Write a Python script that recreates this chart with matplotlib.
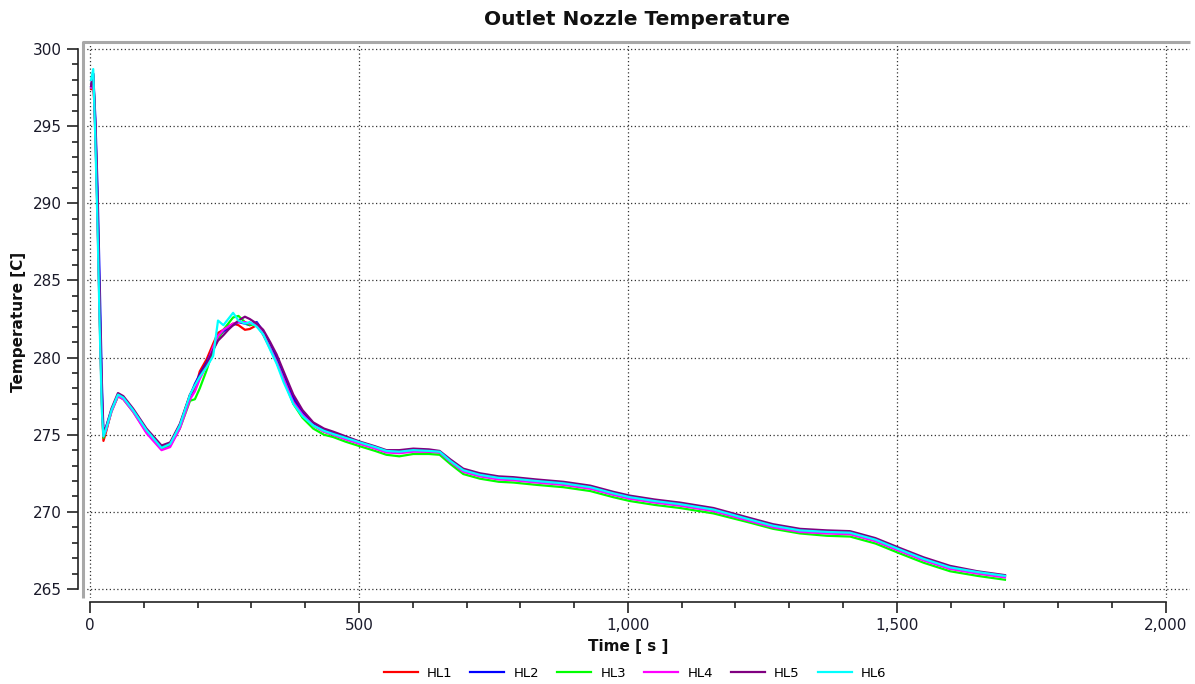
import matplotlib
matplotlib.use("Agg")
import matplotlib.pyplot as plt
from matplotlib.ticker import MultipleLocator, FuncFormatter

# time [s], shared by all six hot-leg nozzle series
time_s = [2, 6, 10, 14, 18, 22, 25, 30, 40, 52, 62, 80, 105, 133, 149, 167, 186, 195,
          204, 217, 229, 238, 248, 257, 266, 276, 288, 297, 310, 322, 335, 347, 360, 378,
          395, 415, 435, 452, 475, 502, 530, 551, 575, 601, 630, 650, 670, 694, 725, 760,
          787, 830, 880, 930, 973, 1004, 1050, 1097, 1159, 1227, 1270, 1320, 1370, 1413,
          1460, 1506, 1550, 1599, 1650, 1701]

hl1 = [297.4, 298.2, 294.5, 289.0, 282.5, 277.0, 274.6, 275.2, 276.6, 277.5, 277.4, 276.6,
       275.3, 274.2, 274.4, 275.6, 277.6, 277.9, 279.1, 279.9, 280.9, 281.6, 281.8, 282.0,
       282.2, 282.1, 281.8, 281.85, 282.1, 281.5, 280.6, 279.8, 278.7, 277.2, 276.3, 275.6,
       275.2, 275.0, 274.75, 274.45, 274.15, 273.9, 273.85, 273.95, 273.9, 273.85, 273.25,
       272.65, 272.35, 272.15, 272.1, 271.95, 271.8, 271.55, 271.15, 270.9, 270.65, 270.45,
       270.1, 269.45, 269.05, 268.75, 268.65, 268.6, 268.15, 267.5, 266.9, 266.35, 266.05,
       265.8]
hl2 = [297.6, 298.4, 295.5, 291.0, 285.0, 278.5, 275.2, 275.5, 276.6, 277.6, 277.4, 276.6,
       275.3, 274.2, 274.4, 275.6, 277.5, 278.3, 278.9, 279.7, 280.6, 281.3, 281.7, 281.9,
       282.1, 282.3, 282.2, 282.1, 282.3, 281.7, 280.9, 280.0, 278.9, 277.4, 276.5, 275.7,
       275.3, 275.1, 274.8, 274.5, 274.2, 273.9, 273.9, 274.0, 273.95, 273.9, 273.3, 272.7,
       272.4, 272.2, 272.15, 272.0, 271.85, 271.6, 271.2, 270.95, 270.7, 270.5, 270.15,
       269.5, 269.1, 268.8, 268.7, 268.65, 268.2, 267.55, 266.95, 266.4, 266.1, 265.85]
hl3 = [297.5, 298.3, 294.8, 289.5, 283.0, 277.2, 274.8, 275.3, 276.5, 277.5, 277.3, 276.5,
       275.2, 274.1, 274.3, 275.4, 277.2, 277.3, 278.0, 279.2, 280.5, 281.2, 281.8, 282.2,
       282.6, 282.7, 282.3, 282.1, 282.2, 281.5, 280.6, 279.7, 278.6, 277.0, 276.1, 275.4,
       275.0, 274.85, 274.55, 274.25, 273.95, 273.7, 273.6, 273.75, 273.75, 273.7, 273.1,
       272.45, 272.15, 271.95, 271.9, 271.75, 271.6, 271.35, 270.95, 270.7, 270.45, 270.25,
       269.9, 269.3, 268.9, 268.6, 268.45, 268.4, 267.95, 267.3, 266.7, 266.15, 265.85,
       265.6]
hl4 = [297.5, 298.3, 294.6, 289.2, 282.8, 277.3, 274.9, 275.3, 276.5, 277.5, 277.3, 276.5,
       275.1, 274.0, 274.2, 275.4, 277.3, 277.8, 278.6, 279.5, 280.7, 281.4, 281.8, 282.0,
       282.2, 282.3, 282.3, 282.2, 282.2, 281.5, 280.6, 279.7, 278.6, 277.1, 276.3, 275.6,
       275.2, 275.0, 274.7, 274.4, 274.1, 273.85, 273.8, 273.9, 273.9, 273.85, 273.25,
       272.6, 272.3, 272.1, 272.05, 271.9, 271.75, 271.5, 271.1, 270.85, 270.6, 270.4,
       270.05, 269.4, 269.0, 268.7, 268.6, 268.55, 268.1, 267.45, 266.85, 266.3, 266.0,
       265.75]
hl5 = [297.6, 298.4, 295.0, 290.0, 283.5, 277.8, 275.0, 275.5, 276.7, 277.7, 277.5, 276.7,
       275.4, 274.3, 274.5, 275.7, 277.6, 278.2, 278.8, 279.6, 280.5, 281.1, 281.45, 281.8,
       282.1, 282.4, 282.65, 282.5, 282.2, 281.8, 281.0, 280.2, 279.1, 277.6, 276.6, 275.8,
       275.4, 275.2, 274.9, 274.55, 274.25, 274.0, 274.0, 274.1, 274.05, 273.95, 273.4,
       272.8, 272.5, 272.3, 272.25, 272.1, 271.95, 271.7, 271.3, 271.05, 270.8, 270.6,
       270.25, 269.6, 269.2, 268.9, 268.8, 268.75, 268.3, 267.65, 267.05, 266.5, 266.15,
       265.9]
hl6 = [298.0, 298.7, 294.0, 288.5, 282.0, 276.5, 274.9, 275.4, 276.6, 277.6, 277.4, 276.6,
       275.3, 274.15, 274.4, 275.6, 277.6, 278.2, 278.75, 279.4, 280.1, 282.4, 282.1, 282.5,
       282.9, 282.4, 282.2, 282.3, 282.0, 281.5, 280.5, 279.6, 278.4, 277.0, 276.2, 275.6,
       275.25, 275.05, 274.8, 274.5, 274.2, 273.95, 273.9, 274.0, 273.95, 273.9, 273.3,
       272.7, 272.4, 272.2, 272.15, 272.0, 271.85, 271.6, 271.2, 270.95, 270.7, 270.5,
       270.15, 269.5, 269.1, 268.8, 268.7, 268.65, 268.2, 267.55, 266.95, 266.4, 266.1,
       265.85]

labels = ["HL1", "HL2", "HL3", "HL4", "HL5", "HL6"]
colors = ["#ff0000", "#0000ff", "#00ff00", "#ff00ff", "#800080", "#00ffff"]
series = [hl1, hl2, hl3, hl4, hl5, hl6]

plt.rcParams['font.family'] = ['DejaVu Sans']

fig = plt.figure(figsize=(11.95, 6.84), dpi=100)
ax = fig.add_axes([0.06946, 0.12573, 0.92636, 0.81287])

for vals, lab, col in zip(series, labels, colors):
    ax.plot(time_s, vals, color=col, lw=1.6, label=lab)

ax.set_xlim(-13, 2045)
ax.set_ylim(264.417, 300.454)

ax.xaxis.set_major_locator(MultipleLocator(500))
ax.xaxis.set_minor_locator(MultipleLocator(100))
ax.yaxis.set_major_locator(MultipleLocator(5))
ax.yaxis.set_minor_locator(MultipleLocator(1))
ax.xaxis.set_major_formatter(FuncFormatter(lambda v, p: f"{int(v):,}"))

ax.grid(True, which='major', color='#333333', linestyle=(0, (1, 2)), lw=0.9)

for s in ['top', 'right']:
    ax.spines[s].set_visible(False)
ax.spines['left'].set_position(('outward', 3.6))
ax.spines['left'].set_bounds(265, 300)
ax.spines['bottom'].set_position(('outward', 2.7))
ax.spines['bottom'].set_bounds(0, 2000)
for s in ['left', 'bottom']:
    ax.spines[s].set_linewidth(1.2)
    ax.spines[s].set_color('#222222')

ax.tick_params(which='major', length=7.9, width=1.2, color='#222222',
               labelsize=11, labelcolor='#1a1a2a', pad=4)
ax.tick_params(which='minor', length=4, width=1.2, color='#222222')

# gray frame on the top and left edges
ax.plot([0, 0, 1], [0, 1, 1], transform=ax.transAxes, color='#a8a8a8',
        lw=2.2, clip_on=False, solid_capstyle='butt')

ax.set_title("Outlet Nozzle Temperature", fontsize=14.5, fontweight='bold',
             y=1.0396, va='center', pad=0, color='#111111')
ax.set_xlabel("Time [ s ]", fontsize=11, fontweight='bold', color='#111111')
ax.xaxis.set_label_coords(0.4923, -0.088)
ax.xaxis.label.set_va('center')
ax.set_ylabel("Temperature [C]", fontsize=11, fontweight='bold', color='#111111')
ax.yaxis.set_label_coords(-0.0587, 0.496)
ax.yaxis.label.set_va('center')

fig.legend(loc='center', bbox_to_anchor=(0.5314, 0.016), ncol=6, frameon=False,
           fontsize=9.5, handlelength=2.58, handletextpad=0.7, columnspacing=1.36)

fig.savefig("out.png", dpi=100)
